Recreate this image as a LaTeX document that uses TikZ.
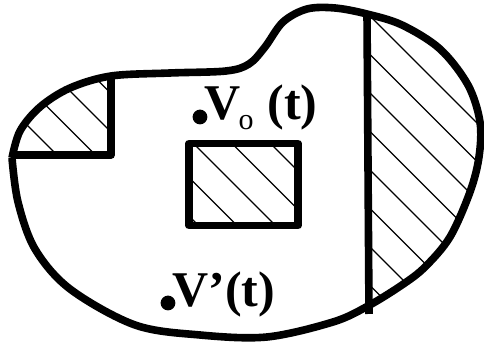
\documentclass[tikz,border=0pt]{standalone}
\usepackage{fontspec}
\setmainfont{Liberation Serif}

% outline of the region (px-like units, y up)
\newcommand\blobpath{plot[smooth, tension=0.55] coordinates {(12,189) (20,216) (40,240) (70,259) (111,271) (170,274) (226,276) (249,283) (265,300) (283,325) (307,338) (335,339) (367,333) (402,322) (440,298) (468,262) (480,225) (479,190) (470,155) (450,110) (425,80) (402,62) (368,41) (333,25) (267,10) (200,12) (135,22) (70,58) (35,98) (18,145) (12,189)}}
% family of hatch lines x+y = #1 + 38.5k
\newcommand\hatchfrom[1]{\foreach \k in {-22,...,22} \draw[hatch] ({#1+38.5*\k},0) -- ++(-420,420);}

\begin{document}
\begin{tikzpicture}[x=0.5pt, y=0.5pt,
  wall/.style={line width=3.8pt, line join=round},
  hatch/.style={line width=0.6pt},
  lbl/.style={anchor=base west, inner sep=0pt, font=\fontsize{25}{25}\selectfont\bfseries}]
\useasboundingbox (0,0) rectangle (484,347);
% hatched parts
\begin{scope}
  \clip \blobpath;
  \clip (0,192) rectangle (111,347);
  \hatchfrom{326}
\end{scope}
\begin{scope}
  \clip \blobpath;
  \clip (368,0) rectangle (484,347);
  \hatchfrom{624}
\end{scope}
\begin{scope}
  \clip (189,121.5) rectangle (298,203.5);
  \hatchfrom{397}
\end{scope}
% walls
\draw[wall] \blobpath;
\coordinate (wtop) at (367,334);
\coordinate (wbot) at (369,33);
\draw[wall] (wtop) -- (wbot);
\coordinate (ltop) at (111,272);
\coordinate (lcorner) at (111,192);
\coordinate (lleft) at (12,192);
\draw[wall] (ltop) -- (lcorner) -- (lleft);
\coordinate (oa) at (189,121.5);
\coordinate (ob) at (298,203.5);
\draw[wall] (oa) rectangle (ob);
% points and labels
\coordinate (p0) at (200,230);
\coordinate (p1) at (168,44);
\fill (p0) circle[radius=3.7pt];
\fill (p1) circle[radius=3.7pt];
\node[lbl] (v0) at (204,227) {V\kern-1pt{\fontsize{15}{15}\selectfont\mdseries\raisebox{-5pt}{o}}\hspace{7pt}(t)};
\node[lbl] (v1) at (172,40) {V'(t)};
\end{tikzpicture}
\end{document}
